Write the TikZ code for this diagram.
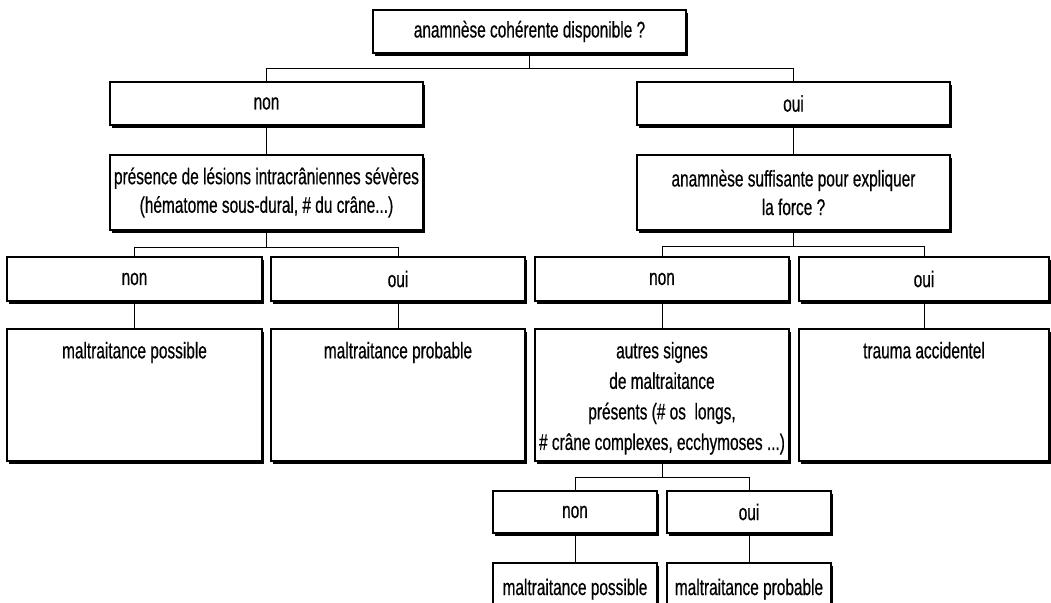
\documentclass[tikz,border=0pt]{standalone}
\usepackage{fontspec}
\setmainfont{Liberation Sans}[FakeStretch=0.68,FakeBold=0.5]
\usetikzlibrary{shadows}
\newcommand\mybox[7][]{%
  \node[box, minimum width={(#5-#3)*0.75pt}, minimum height={(#6-#4)*0.75pt}, #1] (#2) at (#3,#4) {#7};}
\begin{document}
\begin{tikzpicture}[x=0.75pt,y=-0.75pt,
  box/.style={draw=black, line width=0.9pt, fill=white, rectangle, inner sep=0pt, outer sep=0pt,
    anchor=north west, align=center,
    drop shadow={shadow xshift=1.6pt, shadow yshift=-2pt, opacity=1, fill=black},
    font=\fontsize{17pt}{21.4pt}\selectfont},
  toptxt/.style={anchor=north, inner sep=0pt, align=center,
    font=\fontsize{17pt}{22.9pt}\selectfont},
  conn/.style={draw=black, line width=0.7pt}]
\useasboundingbox (0,0) rectangle (1051,603);
\clip (0,0) rectangle (1051,603);
% boxes
\mybox{top}{373}{10}{686}{53}{anamnèse cohérente disponible ?}
\mybox{n1}{110}{82}{423}{125}{non}
\mybox{o1}{637}{82}{950}{125}{oui}
\mybox{pres}{110}{155}{423}{230}{présence de lésions intracrâniennes sévères\\(hématome sous-dural, \# du crâne...)}
\mybox{anam}{637}{155}{950}{230}{anamnèse suffisante pour expliquer\\la force ?}
\mybox{n2L}{7}{257}{262}{301}{non}
\mybox{o2L}{271}{257}{525}{301}{oui}
\mybox{n2R}{535}{257}{789}{301}{non}
\mybox{o2R}{799}{257}{1049}{301}{oui}
\mybox[label={[toptxt,yshift=-9.5pt]north:maltraitance possible}]{mp}{7}{329}{262}{461}{}
\mybox[label={[toptxt,yshift=-9.5pt]north:maltraitance probable}]{mpr}{271}{329}{525}{461}{}
\mybox[label={[toptxt,yshift=-9.5pt]north:autres signes\\de maltraitance\\présents (\# os~ longs,\\\# crâne complexes, ecchymoses ...)}]{autres}{535}{329}{789}{461}{}
\mybox[label={[toptxt,yshift=-9.5pt]north:trauma accidentel}]{trauma}{799}{329}{1049}{461}{}
\mybox{n3}{493}{491}{657}{533}{non}
\mybox{o3}{667}{491}{831}{533}{oui}
\mybox[label={[toptxt,yshift=-11.5pt]north:maltraitance possible}]{mp2}{493}{563}{657}{640}{}
\mybox[label={[toptxt,yshift=-11.5pt]north:maltraitance probable}]{mpr2}{667}{563}{831}{640}{}
% connectors
\draw[conn] (top.south) -- (top.south |- 0,68);
\draw[conn] (n1.north) -- (n1.north |- 0,68) -- (o1.north |- 0,68) -- (o1.north);
\draw[conn] (n1.south) -- (pres.north);
\draw[conn] (o1.south) -- (anam.north);
\draw[conn] (pres.south) -- (pres.south |- 0,247);
\draw[conn] (n2L.north) -- (n2L.north |- 0,247) -- (o2L.north |- 0,247) -- (o2L.north);
\draw[conn] (anam.south) -- (anam.south |- 0,246);
\draw[conn] (n2R.north) -- (n2R.north |- 0,246) -- (o2R.north |- 0,246) -- (o2R.north);
\draw[conn] (n2L.south) -- (mp.north);
\draw[conn] (o2L.south) -- (mpr.north);
\draw[conn] (n2R.south) -- (autres.north);
\draw[conn] (o2R.south) -- (trauma.north);
\draw[conn] (autres.south) -- (autres.south |- 0,477);
\draw[conn] (n3.north) -- (n3.north |- 0,477) -- (o3.north |- 0,477) -- (o3.north);
\draw[conn] (n3.south) -- (mp2.north);
\draw[conn] (o3.south) -- (mpr2.north);
\end{tikzpicture}
\end{document}
